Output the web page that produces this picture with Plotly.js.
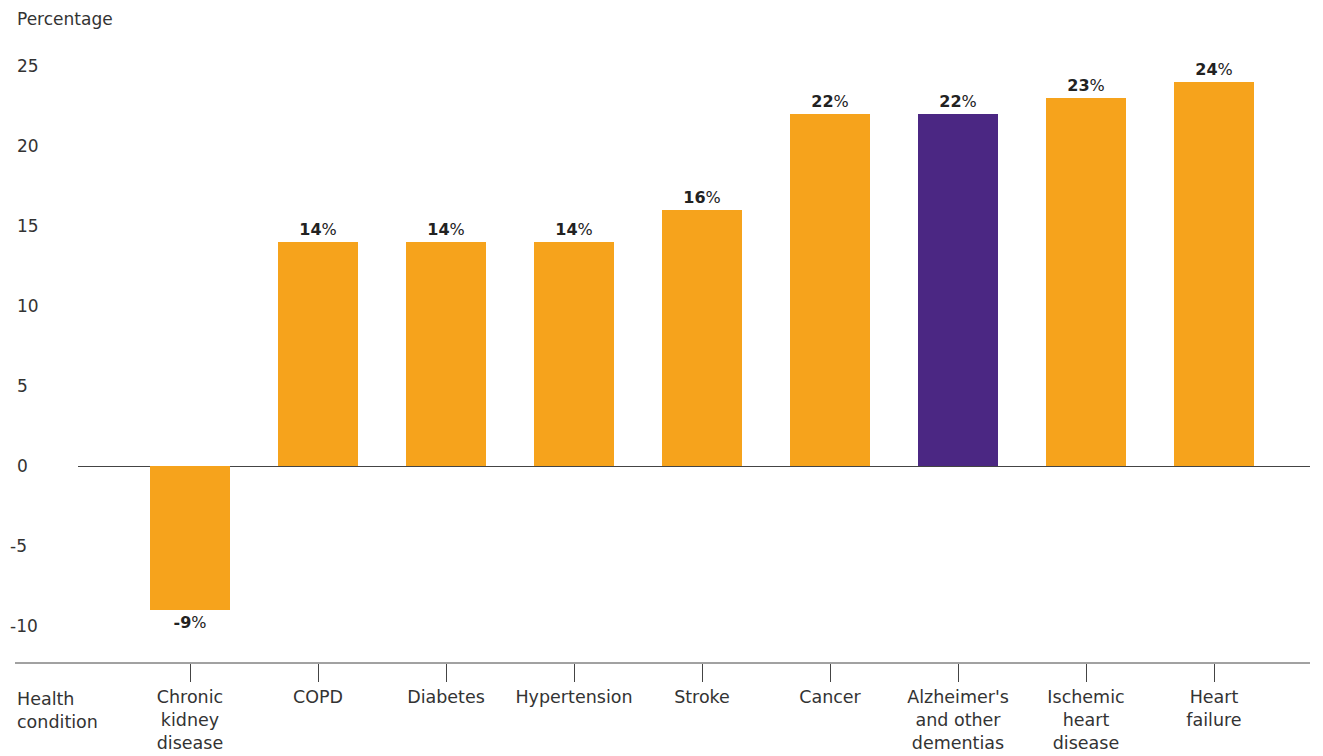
<!DOCTYPE html>
<html>
<head>
<meta charset="utf-8">
<script src="https://cdn.plot.ly/plotly-3.0.1.min.js"></script>
<style>html,body{margin:0;padding:0;background:#fff;}#chart{width:1323px;height:756px;}</style>
</head>
<body>
<div id="chart"></div>
<script>
const categories = ["Chronic<br>kidney<br>disease","COPD","Diabetes","Hypertension","Stroke","Cancer","Alzheimer's<br>and other<br>dementias","Ischemic<br>heart<br>disease","Heart<br>failure"];
const values = [-9, 14, 14, 14, 16, 22, 22, 23, 24];
const highlight = "Alzheimer's<br>and other<br>dementias";
const yTickVals = [-10, -5, 0, 5, 10, 15, 20, 25];
const yTitle = "Percentage";
const xTitle = "Health condition";

const ORANGE = "#F6A31C";
const PURPLE = "#4B2783";
const FONT = "'DejaVu Sans', sans-serif";
const TXT = "#333333";

const W = 1323, H = 756;
const L = 78, R = 13, T = 40, B = 93;
const plotW = W - L - R;
const leftPx = 15;
const paperLeft = (leftPx - L) / plotW;

const colors = categories.map(c => c === highlight ? PURPLE : ORANGE);
const labels = values.map(v => "<b>" + String(v) + "</b>%");

const trace = {
  type: "bar",
  x: categories,
  y: values,
  text: labels,
  marker: {color: colors, line: {width: 0}},
  texttemplate: "%{text}",
  textposition: "outside",
  textfont: {family: FONT, size: 16, color: "#222222"},
  cliponaxis: false,
  hoverinfo: "skip"
};

const annotations = [];
yTickVals.forEach(v => {
  annotations.push({
    xref: "paper", yref: "y", x: paperLeft, y: v,
    xanchor: "left", yanchor: "middle",
    xshift: v < 0 ? -7 : 0,
    text: String(v), showarrow: false,
    font: {family: FONT, size: 17, color: TXT}
  });
});
annotations.push({
  xref: "paper", yref: "paper", x: paperLeft, y: 1, yshift: 21,
  xanchor: "left", yanchor: "middle",
  text: yTitle, showarrow: false,
  font: {family: FONT, size: 17, color: TXT}
});
annotations.push({
  xref: "paper", yref: "paper", x: paperLeft, y: 0, yshift: -47,
  xanchor: "left", yanchor: "middle", align: "left",
  text: xTitle.replace(" ", "<br>"), showarrow: false,
  font: {family: FONT, size: 17.5, color: TXT}
});

const layout = {
  width: W, height: H,
  margin: {l: L, r: R, t: T, b: B},
  paper_bgcolor: "#ffffff",
  plot_bgcolor: "#ffffff",
  showlegend: false,
  bargap: 0.375,
  font: {family: FONT, color: TXT},
  xaxis: {
    type: "category",
    range: [-0.875, 8.75],
    showgrid: false,
    zeroline: false,
    showline: false,
    ticks: "outside",
    ticklen: 18,
    tickwidth: 1,
    tickcolor: "#444444",
    tickfont: {family: FONT, size: 17.5, color: TXT},
    fixedrange: true
  },
  yaxis: {
    range: [-12.3125, 26.625],
    showgrid: false,
    zeroline: true,
    zerolinecolor: "#444444",
    zerolinewidth: 1,
    showticklabels: false,
    ticks: "",
    tickvals: yTickVals,
    fixedrange: true
  },
  shapes: [{
    type: "line", xref: "paper", yref: "paper",
    x0: paperLeft, x1: 1, y0: 0, y1: 0,
    line: {color: "#444444", width: 1}
  }],
  annotations: annotations
};

Plotly.newPlot("chart", [trace], layout, {displayModeBar: false, staticPlot: true});
</script>
</body>
</html>
